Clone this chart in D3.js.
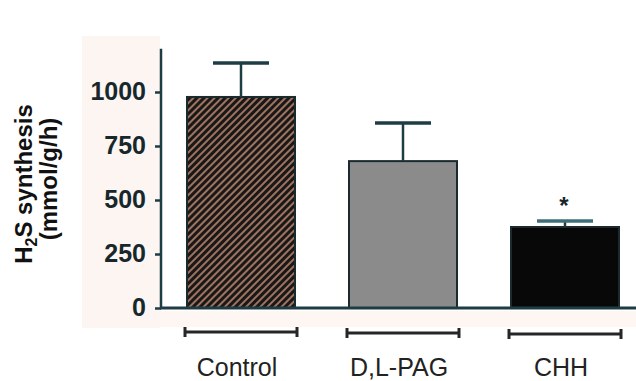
<!DOCTYPE html>
<html>
<head>
<meta charset="utf-8">
<script src="https://cdn.jsdelivr.net/npm/d3@7"></script>
<style>
  html, body { margin: 0; padding: 0; background: #fff; }
  svg { display: block; }
</style>
</head>
<body>
<svg id="chart" width="636" height="381"></svg>
<script>
// H2S synthesis per treatment group (mean and upper error bar)
const groups = ["Control", "D,L-PAG", "CHH"];
const means = [977, 680, 375];
const errorTops = [1134, 856, 403];
const significant = [false, false, true];
const yTicks = [0, 250, 500, 750, 1000];

const svg = d3.select("#chart");
const W = 636, H = 381;

const y = d3.scaleLinear().domain([0, 1000]).range([308, 92]);
const x = d3.scaleBand().domain(groups).range([160, 646])
  .paddingInner(1 / 3).paddingOuter(1 / 6);

const axisColor = "#1d3c44";
const font = "Liberation Sans, Arial, sans-serif";

// faint tint from the printed page
svg.append("rect").attr("x", 82).attr("y", 36).attr("width", 78).attr("height", 292)
  .attr("fill", "#fdf5f2");
svg.append("rect").attr("x", 160).attr("y", 311).attr("width", 476).attr("height", 16)
  .attr("fill", "#fdf6f3");

// hatch for the control bar
const defs = svg.append("defs");
const pat = defs.append("pattern").attr("id", "hatch")
  .attr("patternUnits", "userSpaceOnUse").attr("width", 5).attr("height", 5)
  .attr("patternTransform", "rotate(45)");
pat.append("rect").attr("width", 5).attr("height", 5).attr("fill", "#181818");
pat.append("rect").attr("x", 0).attr("width", 2).attr("height", 5).attr("fill", "#a0735f");

const fills = ["url(#hatch)", "#8b8b8b", "#080808"];

// bars
svg.selectAll("rect.bar").data(groups).join("rect")
  .attr("class", "bar")
  .attr("x", d => x(d))
  .attr("y", (d, i) => y(means[i]))
  .attr("width", x.bandwidth())
  .attr("height", (d, i) => y(0) - y(means[i]))
  .attr("fill", (d, i) => fills[i])
  .attr("stroke", "#1b2a2e").attr("stroke-width", 2);

// error bars
const capHalf = 28;
const eb = svg.selectAll("g.err").data(groups).join("g").attr("class", "err");
eb.append("line")
  .attr("x1", d => x(d) + x.bandwidth() / 2).attr("x2", d => x(d) + x.bandwidth() / 2)
  .attr("y1", (d, i) => y(means[i])).attr("y2", (d, i) => y(errorTops[i]))
  .attr("stroke", axisColor).attr("stroke-width", 2.5);
eb.append("line")
  .attr("x1", d => x(d) + x.bandwidth() / 2 - capHalf).attr("x2", d => x(d) + x.bandwidth() / 2 + capHalf)
  .attr("y1", (d, i) => y(errorTops[i])).attr("y2", (d, i) => y(errorTops[i]))
  .attr("stroke", (d, i) => i === 2 ? "#3f6f7a" : axisColor).attr("stroke-width", 3.5);

// significance marker
svg.selectAll("text.sig").data(groups.filter((d, i) => significant[i])).join("text")
  .attr("class", "sig")
  .attr("x", d => x(d) + x.bandwidth() / 2 - 1)
  .attr("y", d => y(errorTops[groups.indexOf(d)]) - 7)
  .attr("text-anchor", "middle")
  .attr("font-family", font)
  .attr("font-weight", "bold").attr("font-size", 24)
  .attr("fill", "#16262a")
  .text("*");

// baseline
svg.append("line").attr("x1", 160).attr("x2", W).attr("y1", y(0)).attr("y2", y(0))
  .attr("stroke", axisColor).attr("stroke-width", 3);

// y axis
const yAxis = svg.append("g").attr("transform", "translate(161,0)")
  .call(d3.axisLeft(y).tickValues(yTicks).tickFormat(d3.format("d"))
    .tickSize(6).tickPadding(9).tickSizeOuter(0));
yAxis.select(".domain").remove();
yAxis.append("line").attr("x1", 0).attr("x2", 0).attr("y1", y(0)).attr("y2", y(1200))
  .attr("stroke", axisColor).attr("stroke-width", 2.5);
yAxis.selectAll(".tick line").attr("stroke", axisColor).attr("stroke-width", 2.5);
yAxis.selectAll(".tick text")
  .attr("font-family", font)
  .attr("font-weight", "bold").attr("font-size", 25)
  .attr("fill", "#17282c")
  .attr("dy", "0.28em");

// group brackets under each bar
const br = svg.selectAll("g.bracket").data(groups).join("g").attr("class", "bracket")
  .attr("transform", (d, i) => `translate(0,${332 + i})`);
br.append("line")
  .attr("x1", d => x(d) - 3).attr("x2", d => x(d) + x.bandwidth() + 3)
  .attr("y1", 0).attr("y2", 0).attr("stroke", "#262626").attr("stroke-width", 3);
br.append("line")
  .attr("x1", d => x(d) - 2).attr("x2", d => x(d) - 2)
  .attr("y1", -5).attr("y2", 5).attr("stroke", "#262626").attr("stroke-width", 3);
br.append("line")
  .attr("x1", d => x(d) + x.bandwidth() + 2).attr("x2", d => x(d) + x.bandwidth() + 2)
  .attr("y1", -5).attr("y2", 5).attr("stroke", "#262626").attr("stroke-width", 3);

// group labels
svg.selectAll("text.group").data(groups).join("text")
  .attr("class", "group")
  .attr("x", d => x(d) + x.bandwidth() / 2 - 4)
  .attr("y", 376)
  .attr("text-anchor", "middle")
  .attr("font-family", font)
  .attr("font-size", 25)
  .attr("fill", "#222")
  .text(d => d);

// y axis title
const title = svg.append("text")
  .attr("transform", "translate(32,184) rotate(-90)")
  .attr("text-anchor", "middle")
  .attr("font-family", font)
  .attr("font-weight", "bold").attr("font-size", 24)
  .attr("fill", "#111");
title.append("tspan").text("H");
title.append("tspan").attr("font-size", 16).attr("dy", 5).text("2");
title.append("tspan").attr("dy", -5).text("S synthesis");
svg.append("text")
  .attr("transform", "translate(57,179) rotate(-90)")
  .attr("text-anchor", "middle")
  .attr("font-family", font)
  .attr("font-weight", "bold").attr("font-size", 24)
  .attr("fill", "#111")
  .text("(mmol/g/h)");
</script>
</body>
</html>
